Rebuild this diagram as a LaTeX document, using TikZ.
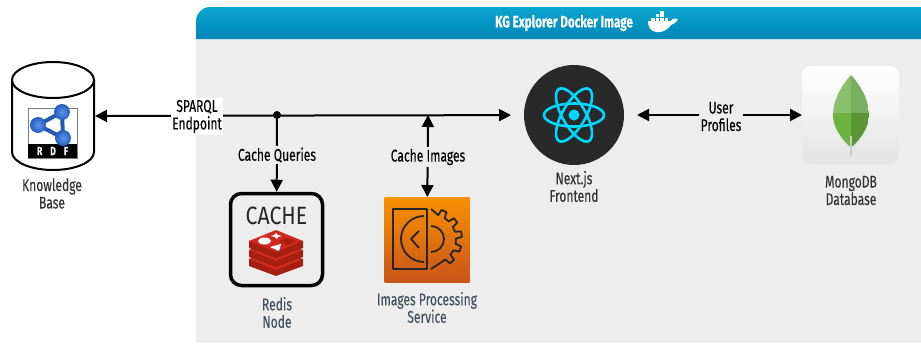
\documentclass[tikz,border=0pt]{standalone}
\usepackage{fontspec}
\setmainfont[FakeStretch=0.71, FakeBold=0.2]{Fira Sans}
\newfontfamily\cachefont[FakeStretch=0.85]{Fira Sans}
\usetikzlibrary{arrows.meta}

\definecolor{labeldark}{HTML}{333333}
\definecolor{labelblue}{HTML}{44505F}
\definecolor{panelgray}{HTML}{EDEDED}
\definecolor{headtop}{HTML}{0AA6CE}
\definecolor{headbot}{HTML}{0086B8}
\definecolor{reactcyan}{HTML}{00D8FF}
\definecolor{rdfblue}{HTML}{2A6FE0}
\definecolor{redisdark}{HTML}{A41E11}
\definecolor{redistop}{HTML}{CF2A20}
\definecolor{leafa}{HTML}{8BC06C}
\definecolor{leafb}{HTML}{7AAF62}
\definecolor{leafc}{HTML}{6CB23F}
\definecolor{leafd}{HTML}{589636}
\definecolor{proctop}{HTML}{F99100}
\definecolor{procbot}{HTML}{C9541A}

\tikzset{
  conn/.style={line width=2pt, {Triangle[length=12pt,width=12pt]}-{Triangle[length=12pt,width=12pt]}},
  oneway/.style={line width=2pt, -{Triangle[length=12pt,width=12pt]}},
  caption/.style={align=center, inner sep=0pt, font=\fontsize{17}{17.5}\selectfont, text=labeldark},
  bluecaption/.style={caption, text=labelblue},
  connlabel/.style={caption, fill=panelgray, inner sep=1.5pt, text=black},
  icon/.style={inner sep=0pt, outer sep=0pt},
  glyph/.style={black!85, line width=1.8pt, line join=round},
}

\begin{document}
\begin{tikzpicture}[x=1pt, y=-1pt]
\useasboundingbox (0, 0) rectangle (921, 343);

\fill[panelgray] (196, 39) rectangle (921, 343);
\shade[top color=headtop, bottom color=headbot] (196, 39) -- (196, 21) arc[start angle=180, end angle=270, radius=14] -- (921, 7) -- (921, 39) -- cycle;
\node[caption, text=white, font=\fontsize{16.5}{17}\bfseries\selectfont] (title) at (564, 23) {KG Explorer Docker Image};

% docker whale
\fill[white] (648, 21) -- (671, 21) .. controls (672, 18) and (676, 18) .. (678, 19) .. controls (676, 23) and (673, 24) .. (671, 25) .. controls (667, 31) and (660, 33) .. (656, 32) .. controls (650, 31) and (648, 26) .. (648, 21) -- cycle;
\foreach \x in {651, 655.5, 660, 664.5} \fill[white] (\x, 17.5) rectangle +(3.5, 3);
\foreach \x in {655.5, 660} \fill[white] (\x, 14) rectangle +(3.5, 3);
\fill[white] (660, 10.5) rectangle +(3.5, 3);

% knowledge base
\node[icon, minimum width=84pt, minimum height=108pt] (kb) at (53, 116) {};
\draw[line width=2pt, fill=white] (12, 80) -- (12, 152) arc[start angle=180, end angle=0, x radius=41, y radius=18] -- (94, 80);
\draw[line width=2pt, fill=white] (53, 80) ellipse (41 and 18);
\node[icon, draw=gray, line width=1pt, fill=white, minimum width=49pt, minimum height=50pt] (rdf) at (52.5, 133) {};
\fill[black] (28, 144) rectangle (77, 158);
\node[inner sep=0pt, text=white, font=\fontsize{12}{12}\bfseries\selectfont] (rdftext) at (52.5, 151) {R\hspace{8pt}D\hspace{8pt}F};
\draw[rdfblue!80!black, line width=4pt] (62, 112) -- (38, 125) -- (63, 138) -- cycle;
\foreach \x/\y in {62/112, 38/125, 63/138} \shade[inner color=rdfblue!75!white, outer color=rdfblue!85!black] (\x, \y) circle (8);
\node[caption] (kbtext) at (52, 193.5) {Knowledge\\Base};

% frontend
\node[circle, fill=black!84, minimum size=100pt, inner sep=0pt, outer sep=13pt] (next) at (574, 115) {};
\foreach \a in {0, 60, 120} \draw[reactcyan, line width=2.6pt, rotate around={\a:(574, 115)}] (574, 115) ellipse (30 and 11.5);
\fill[reactcyan] (574, 115) circle (5.5);
\node[caption] (nexttext) at (574, 186.5) {Next.js\\Frontend};

% mongo
\node[icon, rounded corners=9pt, minimum width=97pt, minimum height=98pt, top color=white, bottom color=black!11] (mongo) at (850.5, 115) {};
\begin{scope}
\clip (851, 75) .. controls (861, 86) and (869, 100) .. (869, 115) .. controls (869, 128) and (860, 139) .. (853, 146) -- (849, 146) .. controls (842, 139) and (833, 128) .. (833, 115) .. controls (833, 100) and (841, 86) .. (851, 75) -- cycle;
\fill[leafa] (833, 75) rectangle (851, 113);
\fill[leafb] (851, 75) rectangle (869, 113);
\fill[leafc] (833, 113) rectangle (851, 147);
\fill[leafd] (851, 113) rectangle (869, 147);
\end{scope}
\draw[black!20, line width=1.8pt] (851, 136) -- (851, 156);
\node[caption] (mongotext) at (851, 190.5) {MongoDB\\Database};

% redis
\node[draw, line width=3.5pt, rounded corners=11pt, fill=panelgray, minimum width=92pt, minimum height=92pt, inner sep=0pt] (redis) at (276.5, 239.5) {};
\node[inner sep=0pt, font=\cachefont\fontsize{25}{25}\selectfont, text=black!85] (cachetext) at (276.5, 216) {CACHE};
\foreach \d in {18, 9, 0} {
  \fill[redisdark] (249, 241+\d) -- (249, 248+\d) -- (276, 258+\d) -- (303, 248+\d) -- (303, 241+\d) -- cycle;
  \fill[redistop] (249, 241+\d) -- (276, 230+\d) -- (303, 241+\d) -- (276, 252+\d) -- cycle;
}
\fill[white] (264.5, 241) ellipse (6.5 and 3.5);
\fill[white] (276, 233) -- (278, 235) -- (282, 236) -- (278, 237) -- (277, 239) -- (275, 237) -- (271, 236) -- (274, 235) -- cycle;
\fill[white] (270, 247) -- (281, 244) -- (279, 251) -- cycle;
\fill[redisdark] (279, 241) -- (288, 238) -- (296, 241) -- (288, 245) -- cycle;
\node[bluecaption] (redistext) at (277, 312.5) {Redis\\Node};

% images service
\node[icon, minimum width=85pt, minimum height=85pt, top color=proctop, bottom color=procbot] (proc) at (427, 239.5) {};
\draw[glyph] (393, 209) rectangle (427, 269);
\draw[glyph] (424, 216) arc[start angle=-90, end angle=-270, radius=23];
\draw[glyph] (419, 231) -- (411, 239) -- (419, 248);
\draw[glyph] (431, 226) arc[start angle=-90, end angle=90, radius=13];
\draw[glyph] (431, 209)
  \foreach \a in {-65, -37, -9, 19, 47} { -- ({431+25*cos(\a-8)}, {239+25*sin(\a-8)}) -- ({431+31*cos(\a-5)}, {239+31*sin(\a-5)}) -- ({431+31*cos(\a+5)}, {239+31*sin(\a+5)}) -- ({431+25*cos(\a+8)}, {239+25*sin(\a+8)}) } -- (431, 269);
\node[bluecaption] (proctext) at (427, 307.5) {Images Processing\\Service};

% connectors
\node[circle, fill=black, minimum size=8pt, inner sep=0pt] (tap) at (277, 115) {};
\coordinate (cimg) at (428, 115);
\draw[conn] (kb) -- (next);
\draw[oneway] (tap) -- (redis);
\draw[conn] (cimg) -- (proc);
\draw[conn] (next) -- (mongo);

\node[caption, fill=white, inner sep=1.5pt, text=black] (sparql) at (197, 116.5) {SPARQL\\Endpoint};
\node[connlabel] (cq) at (277, 155) {Cache Queries};
\node[connlabel] (ci) at (428, 157) {Cache Images};
\node[connlabel] (up) at (721, 116.5) {User\\Profiles};
\end{tikzpicture}
\end{document}
